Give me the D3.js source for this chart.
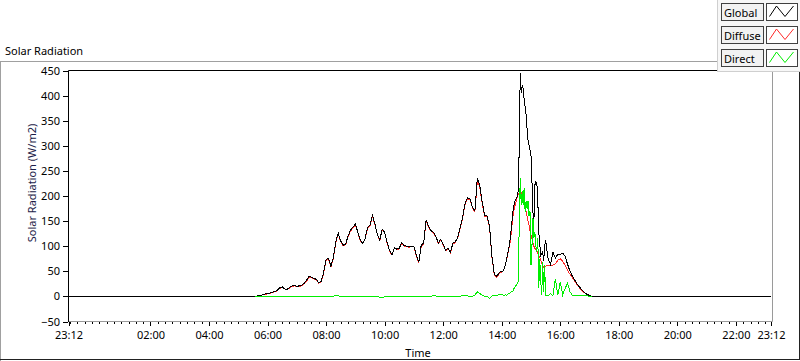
<!DOCTYPE html>
<html><head><meta charset="utf-8">
<script src="https://cdn.jsdelivr.net/npm/d3@7"></script>
<style>
html,body{margin:0;padding:0;background:#fff;}
svg{display:block;font-family:"Noto Sans",sans-serif;}
</style></head><body>
<svg id="chart" width="800" height="361"></svg>
<script>
// ---------- DATA ----------
const times = [
  "23:12",
  "05:30","05:35","05:40","05:45","05:50","05:55",
  "06:00","06:05","06:10","06:15","06:20","06:25","06:30","06:35","06:40","06:45","06:50","06:55",
  "07:00","07:05","07:10","07:15","07:20","07:25","07:30","07:35","07:40","07:45","07:50","07:55",
  "08:00","08:05","08:10","08:15","08:20","08:25","08:30","08:35","08:40","08:45","08:50","08:55",
  "09:00","09:05","09:10","09:15","09:20","09:25","09:30","09:35","09:40","09:45","09:50","09:55",
  "10:00","10:05","10:10","10:15","10:20","10:25","10:30","10:35","10:40","10:45","10:50","10:55",
  "11:00","11:05","11:10","11:15","11:20","11:25","11:30","11:35","11:40","11:45","11:50","11:55",
  "12:00","12:05","12:10","12:15","12:20","12:25","12:30","12:35","12:40","12:45","12:50","12:55",
  "13:00","13:05","13:10","13:15","13:20","13:25","13:30","13:35","13:40","13:45","13:50","13:55",
  "14:00",
  "14:02","14:04","14:06","14:08","14:10","14:12","14:14","14:16","14:18","14:20",
  "14:22","14:24","14:26","14:28","14:30","14:32","14:34","14:36","14:38","14:40",
  "14:42","14:44","14:46","14:48","14:50","14:52","14:54","14:56","14:58","15:00",
  "15:02","15:04","15:06","15:08","15:10","15:12","15:14","15:16","15:18","15:20",
  "15:22","15:24","15:26","15:28","15:30",
  "15:35","15:40","15:45","15:50","15:55",
  "16:00","16:05","16:10","16:15","16:20","16:25","16:30","16:35","16:40","16:45","16:50","16:55",
  "17:00","17:05","17:10","17:15","17:20","17:25","17:30",
  "23:12"
];
const globalVals = [
  0,
  0,0,1,2,3,5,
  5,7,8,10,12,17,19,15,14,18,21,22,
  20,21,22,26,32,40,38,36,34,27,30,48,
  74,76,60,78,110,126,110,102,104,120,132,138,
  144,128,112,106,115,138,142,162,145,124,112,134,
  128,108,92,83,97,94,96,107,101,100,99,100,
  100,82,68,102,106,152,140,131,128,120,106,114,
  104,92,96,88,106,109,118,138,158,186,196,194,
  178,170,236,222,188,162,160,140,80,44,40,48,
  50,
  50,52,58,66,74,84,94,104,120,138,
  160,178,186,192,196,200,210,300,445,405,
  420,415,392,378,362,335,310,302,292,282,
  230,168,150,222,228,226,190,128,105,82,
  86,89,70,100,112,
  75,64,88,76,84,
  84,86,80,64,50,40,32,24,18,12,7,4,
  2,0,0,0,0,0,0,
  0
];
const diffuseVals = [
  0,
  0,0,1,2,3,4,
  5,6,8,9,11,16,18,15,13,17,20,21,
  20,20,21,25,30,38,37,35,33,26,29,46,
  72,74,59,76,108,124,109,101,103,118,130,137,
  142,127,111,105,114,136,141,160,143,123,111,132,
  127,107,91,82,96,93,95,105,100,99,98,99,
  99,81,67,100,105,150,138,130,126,119,105,113,
  103,91,95,87,104,108,117,136,156,184,194,192,
  177,168,230,218,185,160,158,138,78,42,38,46,
  48,
  50,52,58,66,72,82,92,100,114,130,
  150,168,176,184,190,198,204,206,204,206,
  202,196,190,180,170,160,150,142,130,122,
  114,106,100,96,94,90,86,82,78,72,
  66,62,58,58,60,
  62,62,62,65,72,
  75,70,62,52,44,37,30,23,16,11,7,4,
  2,0,0,0,0,0,0,
  0
];
const directVals = [
  null,
  null,0,0,0,0,0,
  0,0,0,0,0,0,0,0,0,0,0,0,
  0,0,0,0,0,0,0,0,0,0,0,0,
  0,0,0,0,2,1,0,0,0,0,0,0,
  0,0,0,0,0,0,0,0,0,0,-2,-2,
  -1,0,0,-1,0,0,0,0,0,0,0,0,
  0,0,0,0,0,0,0,0,2,1,0,0,
  0,0,0,0,0,0,0,0,2,2,1,0,
  0,3,9,6,2,0,0,-4,1,2,2,4,
  3,
  3,2,2,3,2,4,6,5,8,9,
  10,12,18,20,22,26,30,150,236,182,
  209,182,216,169,190,175,190,160,169,62,
  100,157,116,129,100,89,116,16,75,30,
  2,69,9,62,2,
  2,5,2,35,2,
  29,3,16,26,9,2,2,2,1,1,1,1,
  0,0,null,null,null,null,null,
  null
];
const yTickValues = [-50,0,50,100,150,200,250,300,350,400,450];
const xTickLabels = ["23:12","02:00","04:00","06:00","08:00","10:00","12:00","14:00","16:00","18:00","20:00","22:00","23:12"];
const seriesNames = ["Global","Diffuse","Direct"];
const seriesColors = ["#000000","#ff2a2a","#00ee00"];
const chartTitle = "Solar Radiation";
const yTitle = "Solar Radiation (W/m2)";
const xTitle = "Time";

// ---------- helpers ----------
function parseSeq(arr){
  let day = 0, prev = -1;
  return arr.map(s => {
    const [h,m] = s.split(":").map(Number);
    const mm = h*60+m;
    if (prev >= 0 && mm < prev) day++;
    prev = mm;
    return new Date(2000,0,1+day,h,m);
  });
}
const tDates = parseSeq(times);
const xTickDates = parseSeq(xTickLabels);
const start = xTickDates[0], end = xTickDates[xTickDates.length-1];

const L = 68.5, R = 771, T = 70.5, B = 321.5;
const x = d3.scaleTime().domain([start,end]).range([L,R]);
const y = d3.scaleLinear().domain([-50,450]).range([B,T]);

const svg = d3.select("#chart");
const W = 800, H = 361;

// outer panel frame
svg.append("line").attr("x1",0).attr("x2",W).attr("y1",61.5).attr("y2",61.5).attr("stroke","#a0a0a0");
svg.append("line").attr("x1",0.5).attr("x2",0.5).attr("y1",61.5).attr("y2",H).attr("stroke","#a0a0a0");
svg.append("line").attr("x1",0).attr("x2",W).attr("y1",359.5).attr("y2",359.5).attr("stroke","#222");
svg.append("line").attr("x1",799.5).attr("x2",799.5).attr("y1",61.5).attr("y2",360).attr("stroke","#222");

// title
svg.append("text").attr("x",5).attr("y",55).attr("font-size",11).attr("fill","#000").text(chartTitle);

// plot frame
svg.append("rect").attr("x",L).attr("y",T).attr("width",772.5-L).attr("height",B-T).attr("fill","#fff");
svg.append("line").attr("x1",L).attr("x2",772.5).attr("y1",B).attr("y2",B).attr("stroke","#9a9a9a");
svg.append("line").attr("x1",772.5).attr("x2",772.5).attr("y1",T).attr("y2",B).attr("stroke","#9a9a9a");
svg.append("line").attr("x1",L).attr("x2",772.5).attr("y1",T).attr("y2",T).attr("stroke","#000");
svg.append("line").attr("x1",L).attr("x2",L).attr("y1",T).attr("y2",B+0.5).attr("stroke","#000");

// y axis
const yAxis = d3.axisLeft(y).tickValues(yTickValues).tickSize(5).tickPadding(3);
const gy = svg.append("g").attr("transform",`translate(${L-0.5},0)`).call(yAxis);
gy.select(".domain").remove();
gy.selectAll("line").attr("stroke","#000").attr("shape-rendering","crispEdges");
gy.selectAll("text").attr("font-size",11).attr("fill","#000").attr("font-family","Noto Sans");

// x axis: minor ticks every 15 min, major at labels
const minor = d3.timeMinute.every(15).range(start,end);
const xMinor = d3.axisBottom(x).tickValues(minor).tickSize(2).tickFormat("");
const gxm = svg.append("g").attr("transform",`translate(0,${B+0.5})`).call(xMinor);
gxm.select(".domain").remove();
gxm.selectAll("line").attr("stroke","#000").attr("shape-rendering","crispEdges");
const xMajor = d3.axisBottom(x).tickValues(xTickDates).tickSize(4).tickPadding(5)
  .tickFormat((d,i)=>xTickLabels[i]);
const gx = svg.append("g").attr("transform",`translate(0,${B+0.5})`).call(xMajor);
gx.select(".domain").remove();
gx.selectAll("line").attr("stroke","#000").attr("shape-rendering","crispEdges");
gx.selectAll("text").attr("font-size",11).attr("fill","#000").attr("font-family","Noto Sans");

// axis titles
svg.append("text").attr("transform","translate(36,183) rotate(-90)").attr("text-anchor","middle")
  .attr("font-size",11).attr("fill","#1c1c48").text(yTitle);
svg.append("text").attr("x",418).attr("y",357).attr("text-anchor","middle")
  .attr("font-size",11).attr("fill","#000").text(xTitle);

// series
const seriesData = [globalVals, diffuseVals, directVals];
const drawOrder = [1,0,2];
drawOrder.forEach(si => {
  const pts = tDates.map((d,i)=>({t:d, v:seriesData[si][i]}));
  const line = d3.line().defined(p=>p.v!==null).x(p=>x(p.t)).y(p=>y(p.v));
  svg.append("path").attr("d",line(pts)).attr("fill","none")
    .attr("stroke",seriesColors[si]).attr("stroke-width",1)
    .attr("shape-rendering","crispEdges");
});

// legend
const lg = svg.append("g");
lg.append("rect").attr("x",717.5).attr("y",-1).attr("width",84).attr("height",72.5)
  .attr("fill","#f7f7f7").attr("stroke","#cfcfcf");
seriesNames.forEach((name,i)=>{
  const top = 3.5 + i*23;
  lg.append("rect").attr("x",721.5).attr("y",top).attr("width",42).attr("height",17)
    .attr("fill","#f2f2f2").attr("stroke","#404040");
  lg.append("text").attr("x",724).attr("y",top+13).attr("font-size",11).attr("fill","#000").text(name);
  lg.append("rect").attr("x",766.5).attr("y",top).attr("width",31).attr("height",17)
    .attr("fill","#fff").attr("stroke","#404040");
  const zz = [[769.5,top+13],[776.5,top+2.5],[785,top+13],[793.5,top+2.5]];
  lg.append("path").attr("d",d3.line()(zz)).attr("fill","none").attr("stroke",seriesColors[i]).attr("stroke-width",1);
});
</script>
</body></html>
